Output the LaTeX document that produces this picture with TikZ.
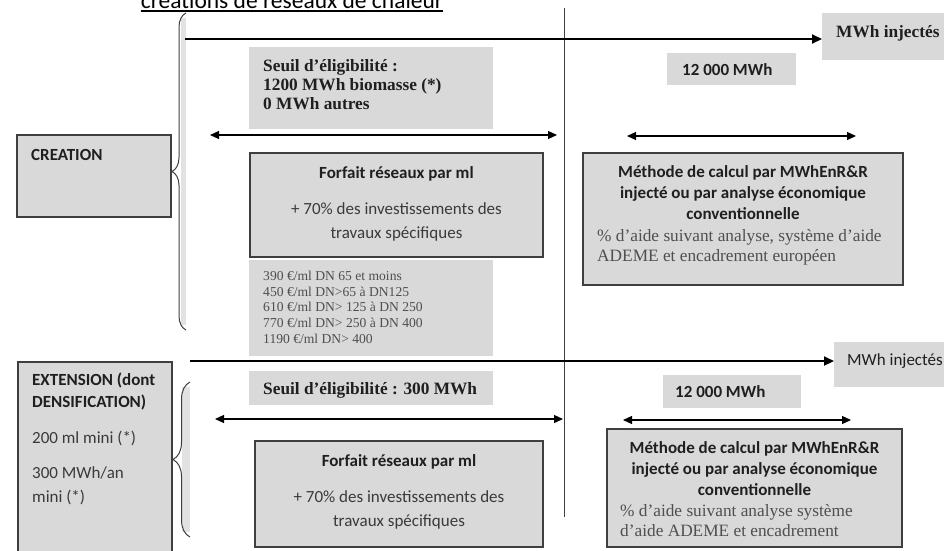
\documentclass[tikz,border=0pt]{standalone}
\usepackage{fontspec}
\setmainfont{Liberation Serif}
\setsansfont{Carlito}
\usetikzlibrary{arrows.meta,decorations.pathreplacing}
\definecolor{boxfill}{HTML}{D9D9D9}
\definecolor{edgecol}{HTML}{3F3F3F}
\definecolor{inkdark}{HTML}{1F1F1F}
\definecolor{inkgray}{HTML}{3A3A3A}
\definecolor{serifgray}{HTML}{4F4F4F}
\definecolor{bandgray}{HTML}{E2E2E2}
\tikzset{
  panel/.style={draw=edgecol, line width=1.2pt, fill=boxfill, anchor=north west, inner sep=0pt, outer sep=0pt},
  plate/.style={fill=boxfill, anchor=north west, inner sep=0pt, outer sep=0pt},
  tsb/.style={anchor=base west, inner sep=0pt, font=\sffamily\bfseries\fontsize{17}{20}\selectfont, text=inkdark},
  tsbc/.style={anchor=base, inner sep=0pt, font=\sffamily\bfseries\fontsize{17}{20}\selectfont, text=inkdark},
  tsr/.style={anchor=base west, inner sep=0pt, font=\sffamily\fontsize{17}{20}\selectfont, text=inkgray},
  tsrc/.style={anchor=base, inner sep=0pt, font=\sffamily\fontsize{17}{20}\selectfont, text=inkgray},
  tserb/.style={anchor=base west, inner sep=0pt, font=\rmfamily\bfseries\fontsize{17.3}{20}\selectfont, text=inkdark},
  tser/.style={anchor=base west, inner sep=0pt, font=\rmfamily\fontsize{17.3}{20}\selectfont, text=serifgray},
  tprice/.style={anchor=base west, inner sep=0pt, font=\rmfamily\fontsize{13.6}{16}\selectfont, text=serifgray},
  flow/.style={line width=2pt, draw=black, -{Triangle[length=10pt,width=9pt]}},
  span/.style={line width=1.2pt, draw=black, {Triangle[length=9pt,width=8pt]}-{Triangle[length=9pt,width=8pt]}},
  bracket/.style={decorate, draw=edgecol, line width=1pt},
}
\begin{document}
\begin{tikzpicture}[x=1pt,y=-1pt]
\useasboundingbox (0,0) rectangle (944,550);
\clip (0,0) rectangle (944,550);
\fill[white] (0,0) rectangle (944,550);

% title (cut at the top edge)
\node[anchor=base, inner sep=0pt, font=\sffamily\fontsize{23.5}{26}\selectfont] (title) at (292,8) {créations de réseaux de chaleur};
\draw[line width=1.2pt] ([yshift=-3pt]title.base west) -- ([yshift=-3pt]title.base east);

% vertical threshold line
\coordinate (vtop) at (564,8);
\coordinate (vbot) at (564,517);
\draw[line width=1pt, draw=edgecol] (vtop) -- (vbot);

% braces
\fill[bandgray] (181,18) rectangle (186,325);
\coordinate (b1a) at (186,330);
\coordinate (b1b) at (186,13);
\draw[bracket, decoration={brace, amplitude=14pt}] (b1a) -- (b1b);
\fill[bandgray] (182,387) rectangle (190,532);
\coordinate (b2a) at (190,537);
\coordinate (b2b) at (190,382);
\draw[bracket, decoration={brace, amplitude=17pt}] (b2a) -- (b2b);

% ===== CREATION row =====
\node[plate, minimum width=122pt, minimum height=47pt] (inj1) at (822,13) {};
\node[tserb] (inj1t) at (836,37) {MWh injectés};
\coordinate (f1s) at (185,39);
\draw[flow] (f1s) -- (f1s -| inj1.west);

\node[plate, minimum width=244pt, minimum height=82pt] (seuil1) at (249,47) {};
\node[tserb] (seuil1a) at (263,71) {Seuil d’éligibilité :};
\node[tserb] (seuil1b) at (263,90) {1200 MWh biomasse (*)};
\node[tserb] (seuil1c) at (263,109) {0 MWh autres};

\node[plate, minimum width=129pt, minimum height=32pt] (k1) at (667,53) {};
\node[tsb] (k1t) at (682,75) {12 000 MWh};

\coordinate (d1l) at (210,135);
\coordinate (d1r) at (557,135);
\draw[span] (d1l) -- (d1r);
\coordinate (d2l) at (627,136);
\coordinate (d2r) at (856,136);
\draw[span] (d2l) -- (d2r);

\node[panel, minimum width=154pt, minimum height=82pt] (creation) at (17,135) {};
\node[tsb] (creationt) at (31,160) {CREATION};

\node[panel, minimum width=293pt, minimum height=104pt] (forf1) at (250,153) {};
\node[tsbc] (forf1a) at (396.5,178) {Forfait réseaux par ml};
\node[tsrc] (forf1b) at (396.5,214) {+ 70\% des investissements des};
\node[tsrc] (forf1c) at (396.5,238) {travaux spécifiques};

\node[plate, minimum width=244pt, minimum height=96pt] (prices) at (249,260) {};
\node[tprice] (p1) at (263,280) {390 €/ml DN 65 et moins};
\node[tprice] (p2) at (263,296) {450 €/ml DN>65 à DN125};
\node[tprice] (p3) at (263,311.5) {610 €/ml DN> 125 à DN 250};
\node[tprice] (p4) at (263,327) {770 €/ml DN> 250 à DN 400};
\node[tprice] (p5) at (263,343) {1190 €/ml DN> 400};

\node[panel, minimum width=320pt, minimum height=132pt] (meth1) at (583,153) {};
\node[tsbc] (meth1a) at (743,177) {Méthode de calcul par MWhEnR\&R};
\node[tsbc] (meth1b) at (743,198) {injecté ou par analyse économique};
\node[tsbc] (meth1c) at (743,219) {conventionnelle};
\node[tser] (meth1d) at (597,241) {\% d’aide suivant analyse, système d’aide};
\node[tser] (meth1e) at (597,261) {ADEME et encadrement européen};

% ===== EXTENSION row =====
\node[plate, minimum width=110pt, minimum height=45pt] (inj2) at (834,342) {};
\node[tsr, text=inkdark] (inj2t) at (847,365) {MWh injectés};
\coordinate (f2s) at (190,361);
\draw[flow] (f2s) -- (f2s -| inj2.west);

\node[panel, minimum width=154pt, minimum height=200pt] (ext) at (18,362) {};
\node[tsb] (ext1) at (32,385) {EXTENSION (dont};
\node[tsb] (ext2) at (32,407) {DENSIFICATION)};
\node[tsr] (ext3) at (32,443) {200 ml mini (*)};
\node[tsr] (ext4) at (32,478) {300 MWh/an};
\node[tsr] (ext5) at (32,502) {mini (*)};

\node[plate, minimum width=244pt, minimum height=34pt] (seuil2) at (249,371) {};
\node[tserb] (seuil2t) at (263,394) {Seuil d’éligibilité : 300 MWh};

\node[plate, minimum width=138pt, minimum height=33pt] (k2) at (663,375) {};
\node[tsb] (k2t) at (675,397) {12 000 MWh};

\coordinate (d3l) at (215,419);
\coordinate (d3r) at (563,419);
\draw[span] (d3l) -- (d3r);
\coordinate (d4l) at (623,420);
\coordinate (d4r) at (851,420);
\draw[span] (d4l) -- (d4r);

\node[panel, minimum width=288pt, minimum height=106pt] (forf2) at (255,441) {};
\node[tsbc] (forf2a) at (399,466) {Forfait réseaux par ml};
\node[tsrc] (forf2b) at (399,502) {+ 70\% des investissements des};
\node[tsrc] (forf2c) at (399,526) {travaux spécifiques};

\node[panel, minimum width=295pt, minimum height=118pt] (meth2) at (607,429) {};
\node[tsbc] (meth2a) at (754.5,453) {Méthode de calcul par MWhEnR\&R};
\node[tsbc] (meth2b) at (754.5,474) {injecté ou par analyse économique};
\node[tsbc] (meth2c) at (754.5,495) {conventionnelle};
\node[tser] (meth2d) at (620,516) {\% d’aide suivant analyse système};
\node[tser] (meth2e) at (620,536) {d’aide ADEME et encadrement};
\end{tikzpicture}
\end{document}
